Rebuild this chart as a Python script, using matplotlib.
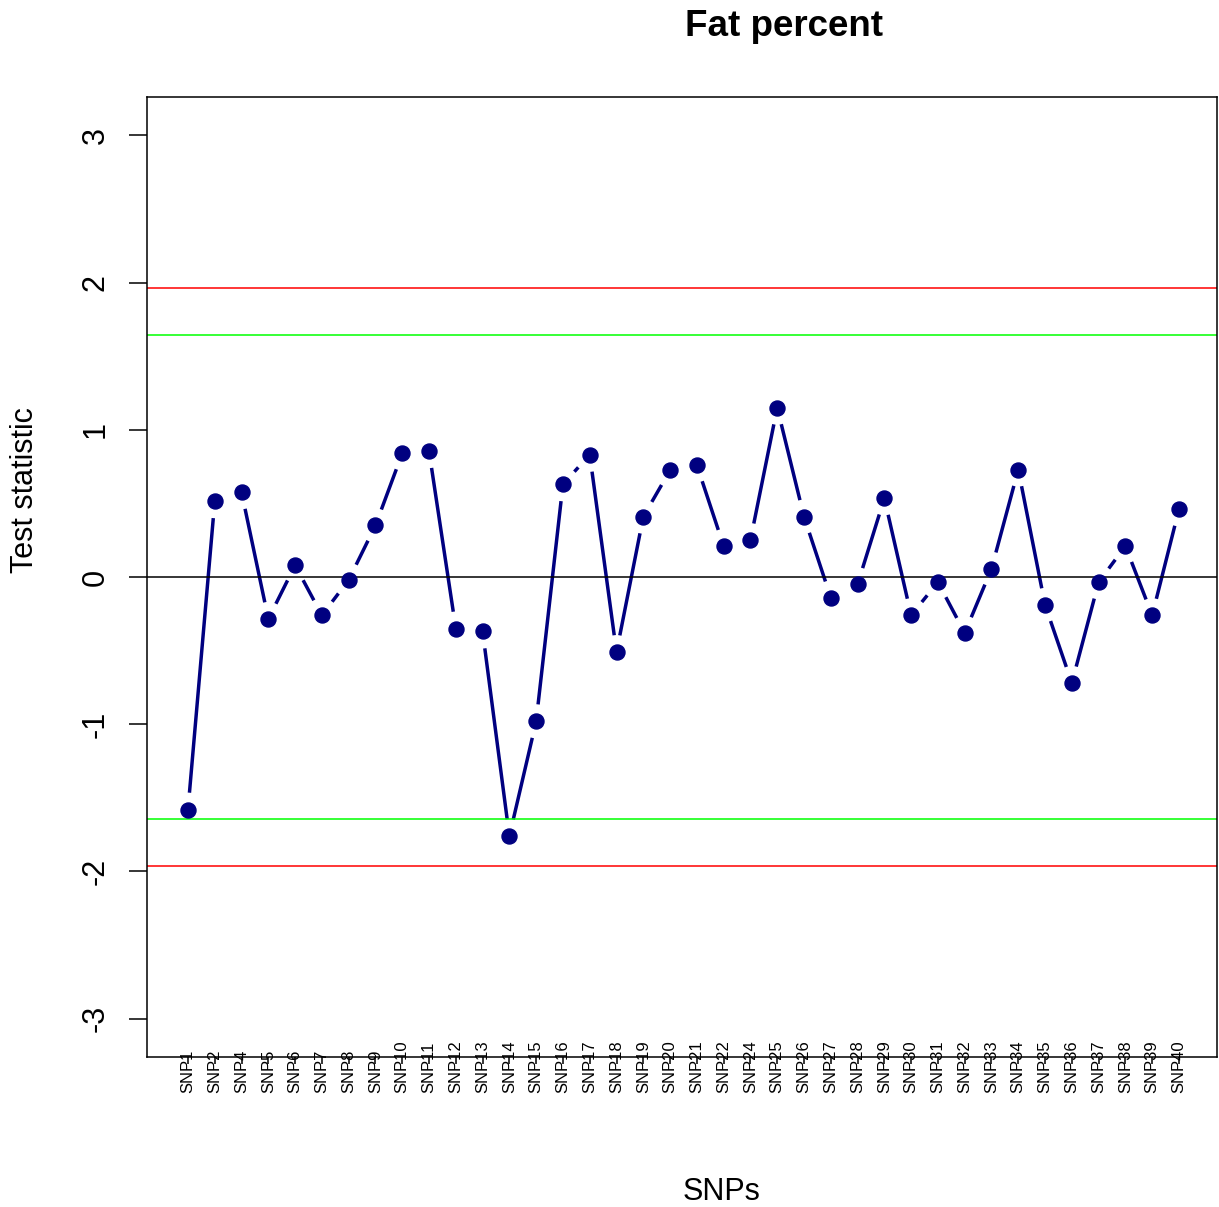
import matplotlib
matplotlib.use("Agg")
import matplotlib.pyplot as plt
import numpy as np

plt.rcParams["font.family"] = ["Liberation Sans", "DejaVu Sans"]

snp_labels = ["SNP1", "SNP2", "SNP4", "SNP5", "SNP6", "SNP7", "SNP8", "SNP9",
              "SNP10", "SNP11", "SNP12", "SNP13", "SNP14", "SNP15", "SNP16",
              "SNP17", "SNP18", "SNP19", "SNP20", "SNP21", "SNP22", "SNP24",
              "SNP25", "SNP26", "SNP27", "SNP28", "SNP29", "SNP30", "SNP31",
              "SNP32", "SNP33", "SNP34", "SNP35", "SNP36", "SNP37", "SNP38",
              "SNP39", "SNP40"]
test_stat = [-1.58, 0.515, 0.576, -0.285, 0.08, -0.26, -0.02, 0.35,
             0.84, 0.855, -0.35, -0.37, -1.76, -0.98, 0.63,
             0.83, -0.51, 0.41, 0.725, 0.76, 0.21, 0.25,
             1.15, 0.41, -0.14, -0.05, 0.535, -0.26, -0.035,
             -0.38, 0.055, 0.73, -0.19, -0.72, -0.035, 0.21,
             -0.26, 0.46]
red_limit = 1.96
green_limit = 1.645
y_ticks = [-3, -2, -1, 0, 1, 2, 3]

W, H = 1219, 1207
fig = plt.figure(figsize=(W / 100, H / 100), dpi=100)
ax = fig.add_axes([147 / W, 1 - 1057 / H, (1217 - 147) / W, (1057 - 97) / H])

x = np.arange(1, len(test_stat) + 1)
y = np.array(test_stat)
ax.set_xlim(-0.53, 39.42)
ax.set_ylim(-3.26, 3.26)

# R type="b": segments stop short of the points
gap = 17
pix = ax.transData.transform(np.column_stack([x, y]))
inv = ax.transData.inverted()
for p1, p2 in zip(pix[:-1], pix[1:]):
    d = p2 - p1
    L = np.hypot(*d)
    if L <= 2 * gap:
        continue
    a = inv.transform(p1 + d / L * gap)
    b = inv.transform(p2 - d / L * gap)
    ax.plot([a[0], b[0]], [a[1], b[1]], color="#000080", lw=2.5,
            solid_capstyle="butt", zorder=1)

ax.axhline(0, color="black", lw=1.1, zorder=2)
ax.axhline(red_limit, color="#ff0000", lw=1.1, zorder=2)
ax.axhline(-red_limit, color="#ff0000", lw=1.1, zorder=2)
ax.axhline(green_limit, color="#00ff00", lw=1.1, zorder=2)
ax.axhline(-green_limit, color="#00ff00", lw=1.1, zorder=2)

ax.plot(x, y, "o", color="#000080", ms=10.8, mec="#000080", zorder=3)

ax.set_yticks(y_ticks)
ax.set_yticklabels([str(t) for t in y_ticks], rotation=90, va="center",
                   fontsize=22)
ax.tick_params(axis="y", length=13, width=1.1, pad=13)
ax.set_xticks(x)
ax.set_xticklabels(snp_labels, rotation=90, fontsize=12, va="bottom",
                   ha="center")
ax.tick_params(axis="x", length=5, width=1.1, pad=21)
for s in ax.spines.values():
    s.set_linewidth(1.1)

fig.text(784 / W, 1 - 26 / H, "Fat percent", ha="center", va="center",
         fontsize=26.5, fontweight="bold")
fig.text(722 / W, 1 - 1192 / H, "SNPs", ha="center", va="center", fontsize=22)
fig.text(25 / W, 1 - 490 / H, "Test statistic", ha="center", va="center",
         rotation=90, fontsize=22)

fig.savefig("out.png", dpi=100)
